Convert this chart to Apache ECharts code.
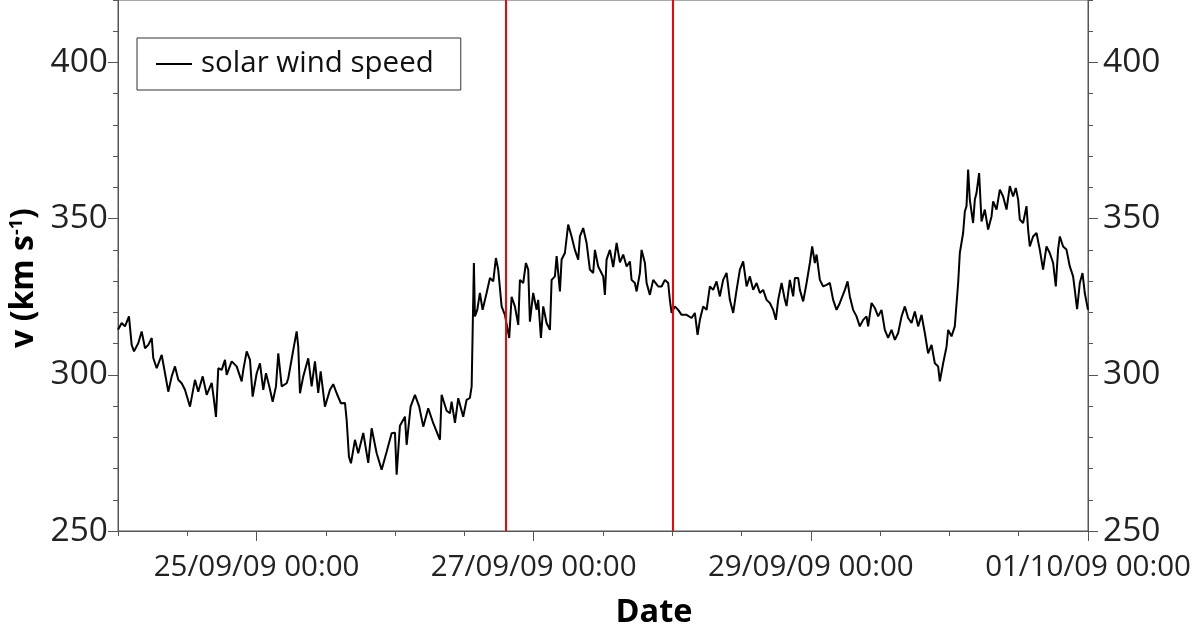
<!DOCTYPE html>
<html><head><meta charset="utf-8">
<script src="https://cdn.jsdelivr.net/npm/echarts@6/dist/echarts.min.js"></script>
<style>html,body{margin:0;padding:0;background:#fff}#c{width:1200px;height:633px}</style>
</head><body><div id="c"></div>
<script>
// hours since 24/09/09 00:00
const hours = [0,0.64,1.21,1.90,2.37,2.77,3.52,4.10,4.68,5.25,5.84,6.11,6.70,7.57,8.14,8.71,9.30,9.87,10.44,11.03,11.60,12.47,13.33,13.90,14.67,15.36,16.23,16.62,16.97,17.37,17.96,18.53,18.82,19.69,20.55,21.42,21.70,22.29,22.86,23.32,24.02,24.59,25.16,25.63,26.20,26.79,27.36,27.76,28.35,29.21,29.49,30.36,30.94,31.22,31.52,32.09,32.95,33.54,34.11,34.68,35.10,35.84,36.71,37.28,37.87,38.61,39.31,39.60,40.00,40.35,41.04,41.61,42.48,43.34,43.93,44.80,45.66,46.53,47.39,47.97,48.26,48.83,49.70,49.99,50.68,51.43,52.17,52.87,53.73,54.60,55.19,55.76,56.05,56.92,57.49,57.78,58.36,58.93,59.79,60.38,60.95,61.25,61.42,61.64,61.82,62.22,62.68,63.15,63.84,64.42,64.99,65.45,65.85,66.44,67.01,67.76,68.17,68.74,69.32,69.61,70.18,70.65,71.05,71.34,71.91,72.50,72.78,73.25,73.65,74.23,74.81,75.10,75.67,75.97,76.54,76.83,77.40,77.97,78.56,79.13,79.71,80.00,80.57,81.16,81.73,82.30,82.60,83.17,84.04,84.33,84.62,85.20,85.77,86.36,86.93,87.50,88.09,88.66,88.95,89.52,89.82,90.39,90.68,91.26,91.55,92.12,92.69,93.56,94.15,94.72,95.29,95.58,95.88,96.45,97.02,97.61,98.48,99.34,99.91,100.38,100.78,101.35,101.94,102.51,103.08,103.67,104.24,104.81,105.40,105.97,106.55,107.14,107.71,108.28,108.87,109.44,110.01,110.60,111.17,111.74,112.33,112.90,113.47,113.94,114.34,114.93,115.50,115.79,116.36,116.94,117.23,117.80,118.10,118.67,119.26,119.83,120.23,120.69,120.99,121.56,122.13,122.72,123.29,123.86,124.45,125.02,125.89,126.36,126.75,127.32,127.91,128.48,129.06,129.64,129.92,130.51,131.08,131.65,132.24,132.81,133.38,133.97,134.55,135.12,135.71,136.28,136.85,137.44,138.01,138.58,139.17,139.74,140.31,140.90,141.47,142.04,142.34,142.91,143.50,143.78,144.36,144.93,145.23,145.51,145.80,146.37,146.67,146.96,147.24,147.53,148.10,148.40,148.69,149.14,149.56,150.13,150.70,151.29,151.57,152.16,152.73,153.30,153.89,154.46,155.03,155.50,155.90,156.19,156.76,157.35,157.63,157.92,158.49,159.08,159.65,160.22,160.81,161.38,161.96,162.42,162.82,163.12,163.69,164.27,164.85,165.42,165.71,166.11,166.58,167.05,167.44,168.00];
// solar wind speed, km/s
const speed = [314.4,316.6,315.5,318.7,309.6,307.5,310.2,313.9,308.5,309.6,311.8,305.4,302.1,306.4,300.5,294.6,299.5,302.7,298.4,297.3,295.2,289.8,298.4,294.6,299.5,293.6,297.4,292.0,286.5,302.1,301.6,304.8,300.0,304.3,302.7,297.9,301.6,307.5,304.8,293.0,300.5,303.7,295.2,300.5,296.3,291.4,296.3,306.9,296.3,297.3,298.9,308.0,313.9,309.0,294.1,299.5,305.3,296.3,304.3,294.2,301.1,289.8,295.2,297.0,294.1,290.9,291.0,285.6,273.8,271.7,279.2,274.9,281.4,271.8,282.9,274.9,269.6,275.4,281.3,281.5,268.0,283.7,286.6,277.6,289.8,293.6,289.8,283.4,289.3,284.5,281.8,279.2,293.6,288.5,287.7,291.4,284.6,292.5,286.6,292.0,292.6,296.3,313.4,335.8,318.7,320.8,326.2,320.8,326.2,331.0,329.9,337.4,333.7,321.9,319.2,311.8,325.0,321.9,316.0,330.4,329.4,335.8,333.7,317.0,326.2,320.8,324.0,311.8,321.9,316.6,314.4,330.4,331.5,338.0,326.7,336.9,339.0,348.1,344.3,340.0,336.9,344.3,347.0,342.2,333.7,332.6,340.0,334.7,331.5,325.6,336.9,340.0,334.5,342.2,336.0,338.5,334.7,336.3,330.4,329.4,326.7,332.6,340.0,335.8,329.4,325.6,330.4,328.3,328.3,330.4,329.4,324.0,319.8,321.9,320.8,319.2,319.2,318.2,319.8,312.8,317.6,321.9,320.8,328.3,327.2,329.9,325.1,330.4,332.6,324.0,319.8,327.2,333.7,336.3,328.3,331.5,327.2,329.4,326.2,327.2,324.0,323.0,320.8,317.6,324.0,329.4,324.0,322.0,330.4,325.1,331.0,331.0,327.2,323.5,329.4,335.8,341.1,335.8,338.5,330.4,328.3,328.8,329.4,324.0,320.8,323.0,327.2,329.9,325.1,320.8,318.7,315.5,317.6,318.7,315.5,323.0,321.4,318.7,320.8,314.4,311.8,314.4,311.2,313.4,318.7,321.9,318.2,316.6,320.3,315.5,319.2,313.4,306.9,309.6,303.7,302.7,297.9,303.7,309.0,314.4,312.3,315.5,316.0,329.4,339.0,345.4,352.3,354.0,365.7,356.1,348.6,356.1,358.2,364.6,349.1,352.9,346.5,350.7,355.5,352.9,359.3,357.1,352.9,360.4,357.1,359.8,356.1,349.7,348.6,354.0,346.5,341.1,344.3,345.4,340.1,333.7,341.1,339.0,335.8,328.3,340.1,344.3,341.1,340.1,334.7,331.5,327.2,321.0,329.4,332.6,326.2,320.8];
const eventHours = [67.2, 96];          // red vertical markers
const xLabelHours = [24, 72, 120, 168]; // labelled date ticks
const yLabelValues = [250, 300, 350, 400];
const seriesName = 'solar wind speed';
const baseTime = Date.UTC(2009, 8, 24, 0, 0);

function fmt(h) {
  const d = new Date(baseTime + h * 3600000);
  const p = n => String(n).padStart(2, '0');
  return p(d.getUTCDate()) + '/' + p(d.getUTCMonth() + 1) + '/' + p(d.getUTCFullYear() % 100) + ' ' + p(d.getUTCHours()) + ':' + p(d.getUTCMinutes());
}

const FONT = '"Open Sans", "Noto Sans", sans-serif';
const AX = '#555';
const chart = echarts.init(document.getElementById('c'), null, {renderer: 'canvas'});

function yAxisPair(pos, margin, withName) {
  const a = {
    type: 'value', position: pos, min: 250, max: 420, interval: 10,
    axisLine: {show: true, lineStyle: {color: AX, width: 1}},
    axisTick: {show: true, inside: false, length: 5, lineStyle: {color: AX}},
    axisLabel: {customValues: yLabelValues, fontSize: 33.5, color: '#222', fontFamily: FONT, margin: margin},
    splitLine: {show: false}
  };
  if (withName) {
    a.name = 'v (km s{sup|-1})';
    a.nameLocation = 'middle';
    a.nameGap = 75;
    a.nameTextStyle = {
      fontFamily: FONT, fontSize: 32, fontWeight: 'bold', color: '#000',
      padding: [0, 25, 0, 0],
      rich: {sup: {fontFamily: FONT, fontSize: 18, fontWeight: 'bold', color: '#000', verticalAlign: 'top'}}
    };
  }
  const b = {
    type: 'value', position: pos, min: 250, max: 420,
    axisLine: {show: false},
    axisTick: {show: true, inside: false, customValues: yLabelValues, length: 10, lineStyle: {color: AX}},
    axisLabel: {show: false}, splitLine: {show: false}
  };
  return [a, b];
}

const option = {
  animation: false,
  backgroundColor: '#fff',
  grid: {left: 118, right: 112, top: 0, bottom: 102, show: true, borderColor: AX, borderWidth: 1,
         backgroundColor: 'transparent', containLabel: false, outerBoundsMode: 'none'},
  legend: {
    data: [{name: seriesName, icon: 'rect'}], left: 137, top: 38, itemWidth: 36, itemHeight: 2,
    padding: [11, 27, 11, 19], borderColor: '#333', borderWidth: 1, selectedMode: false,
    itemStyle: {color: '#000'},
    textStyle: {fontFamily: FONT, fontSize: 29.5, color: '#111', padding: [0, 0, 0, 4]}
  },
  xAxis: [
    {
      type: 'value', position: 'bottom', min: 0, max: 168, interval: 12,
      axisLine: {show: true, lineStyle: {color: AX, width: 1}},
      axisTick: {show: true, inside: false, length: 5, lineStyle: {color: AX}},
      axisLabel: {customValues: xLabelHours, formatter: fmt, fontSize: 29.5, color: '#222', fontFamily: FONT, margin: 22},
      splitLine: {show: false},
      name: 'Date', nameLocation: 'middle', nameGap: 65,
      nameTextStyle: {fontFamily: FONT, fontSize: 32.5, fontWeight: 'bold', color: '#000', padding: [0, 0, 0, 102]}
    },
    {
      type: 'value', position: 'bottom', min: 0, max: 168,
      axisLine: {show: false},
      axisTick: {show: true, inside: false, customValues: xLabelHours, length: 10, lineStyle: {color: AX}},
      axisLabel: {show: false}, splitLine: {show: false}
    }
  ],
  yAxis: [...yAxisPair('left', 10, true), ...yAxisPair('right', 15, false)],
  series: [{
    name: seriesName, type: 'line', xAxisIndex: 0, yAxisIndex: 0,
    data: hours.map((h, i) => [h, speed[i]]),
    showSymbol: false, symbol: 'none',
    lineStyle: {color: '#000', width: 2}, itemStyle: {color: '#000'},
    markLine: {
      silent: true, symbol: ['none', 'none'], label: {show: false},
      lineStyle: {color: '#ff0000', width: 2, type: 'solid'},
      data: eventHours.map(h => ({xAxis: h}))
    }
  }]
};
chart.setOption(option);
</script></body></html>
